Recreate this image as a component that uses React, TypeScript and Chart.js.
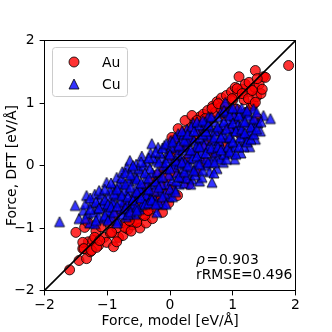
import { useEffect, useRef } from "react";
import { Chart, registerables } from "chart.js";

Chart.register(...registerables);

// ---- data ----
const seriesNames = ["Au", "Cu"];
const axisTicks = [-2, -1, 0, 1, 2];
const diagonal = [-2, 2];
const rhoValue = "0.903";
const rrmseValue = "0.496";
const xTitle = "Force, model [eV/Å]";
const yTitle = "Force, DFT [eV/Å]";

const auPoints: [number, number][] = [
  [-1.60, -1.67], [-1.50, -1.07], [-1.45, -1.52], [-1.39, -1.33], [-1.33, -1.49], [-1.30, -1.22], [-1.27, -1.38], [-1.23, -1.20],
  [-1.18, -1.05], [-1.14, -1.28], [-1.10, -0.98], [-1.05, -1.15], [-1.01, -1.23], [-0.97, -0.92], [-0.95, -1.08], [-0.90, -1.30],
  [-0.88, -0.80], [-0.85, -1.00], [-0.82, -1.15], [-0.78, -0.70], [-0.75, -1.12], [-0.72, -0.92], [-0.70, -0.60], [-0.67, -1.02],
  [-0.64, -0.80], [-0.60, -0.95], [-0.58, -0.55], [-0.55, -0.70], [-0.53, -0.90], [-0.50, -0.45], [-0.48, -1.00], [-0.45, -0.62],
  [-0.42, -0.80], [-0.40, -0.35], [-0.38, -0.92], [-0.35, -0.55], [-0.32, -0.72], [-0.30, -0.25], [-0.28, -0.85], [-0.25, -0.45],
  [-0.24, -0.67], [-0.20, -0.15], [-0.18, -0.58], [-0.15, -0.32], [-0.12, -0.75], [-0.10, -0.05], [-0.08, -0.45], [-0.05, -0.20],
  [-0.02, -0.60], [0.00, 0.15], [0.02, -0.35], [0.05, 0.40], [0.07, -0.10], [0.10, 0.25], [0.12, -0.48], [0.15, 0.05],
  [0.18, 0.48], [0.20, -0.20], [0.22, 0.30], [0.25, 0.55], [0.28, 0.10], [0.30, -0.30], [0.33, 0.42], [0.35, 0.62],
  [0.38, 0.20], [0.40, 0.70], [0.42, -0.10], [0.45, 0.50], [0.48, 0.78], [0.50, 0.30], [0.53, 0.82], [0.55, 0.05],
  [0.57, 0.60], [0.60, 0.88], [0.62, 0.40], [0.65, 0.75], [0.68, 0.95], [0.70, 0.20], [0.72, 0.85], [0.75, 1.02],
  [0.78, 0.55], [0.80, 0.92], [0.82, 1.08], [0.85, 0.35], [0.87, 0.80], [0.90, 1.12], [0.92, 0.98], [0.95, 0.60],
  [0.98, 1.18], [1.00, 1.05], [1.02, 0.75], [1.04, 1.25], [1.06, 0.90], [1.08, 1.15], [1.10, 1.42], [1.12, 0.50],
  [1.15, 1.22], [1.18, 1.05], [1.20, 1.30], [1.22, 0.85], [1.26, 1.33], [1.28, 1.18], [1.30, 0.95], [1.33, 0.98],
  [1.35, 1.25], [1.36, 1.52], [1.38, 1.10], [1.40, 0.75], [1.42, 1.30], [1.45, 1.15], [1.49, 1.42], [1.52, 1.41],
  [1.47, 1.22], [1.89, 1.60],
  [0.03, 0.45], [0.13, 0.59], [0.24, 0.72], [0.35, 0.80], [0.43, 0.72], [0.56, 0.75], [0.67, 0.91], [0.77, 0.99],
  [0.88, 0.93], [0.99, 1.07], [1.07, 1.23], [1.15, 1.15], [1.25, 1.07], [1.31, 1.20], [1.36, 1.01], [1.39, 1.39],
  [-1.39, -1.23], [-1.37, -1.33], [-1.25, -1.36], [-1.17, -1.31], [-1.20, -1.15], [-1.12, -1.20], [-0.93, -1.07], [-0.72, -0.99],
  [-0.53, -0.91], [-0.40, -0.80], [-0.35, -0.72], [-1.36, -0.99], [-1.31, -0.91], [-0.62, -1.05], [-0.85, -1.22], [-0.65, -0.88],
  [-0.15, -0.55],
];

const cuPoints: [number, number][] = [
  [-1.76, -0.90], [-1.51, -0.64], [-1.45, -0.85], [-1.38, -0.72], [-1.33, -0.48], [-1.31, -0.77], [-1.28, -0.92], [-1.25, -0.60],
  [-1.20, -0.46], [-1.20, -0.93], [-1.16, -0.70], [-1.12, -0.55], [-1.09, -0.45], [-1.06, -0.85], [-1.03, -0.65], [-1.01, -0.27],
  [-0.98, -0.50], [-0.95, -0.75], [-0.93, -0.83], [-0.90, -0.35], [-0.88, -0.60], [-0.85, -0.19], [-0.83, -0.88], [-0.80, -0.45],
  [-0.78, -0.70], [-0.75, -0.28], [-0.72, -0.55], [-0.70, -0.82], [-0.69, -0.03], [-0.66, -0.40], [-0.64, 0.08], [-0.62, -0.65],
  [-0.60, -0.20], [-0.58, -0.48], [-0.56, -0.78], [-0.54, 0.02], [-0.52, -0.32], [-0.51, -0.51], [-0.49, -0.70], [-0.47, -0.10],
  [-0.45, 0.15], [-0.43, -0.40], [-0.41, -0.58], [-0.39, -0.22], [-0.37, 0.05], [-0.35, -0.58], [-0.33, -0.45], [-0.31, 0.20],
  [-0.29, 0.35], [-0.28, -0.12], [-0.26, -0.30], [-0.24, -0.55], [-0.22, 0.08], [-0.21, -0.75], [-0.19, 0.29], [-0.17, -0.20],
  [-0.15, -0.42], [-0.13, 0.12], [-0.11, -0.62], [-0.09, 0.32], [-0.07, -0.05], [-0.05, -0.30], [-0.03, 0.22], [-0.01, -0.50],
  [0.01, 0.40], [0.03, -0.24], [0.05, 0.05], [0.07, -0.38], [0.09, 0.28], [0.11, -0.12], [0.13, 0.51], [0.15, -0.30],
  [0.17, 0.15], [0.19, 0.42], [0.21, -0.05], [0.23, -0.28], [0.25, 0.30], [0.27, 0.58], [0.29, -0.13], [0.31, 0.10],
  [0.33, 0.45], [0.35, -0.22], [0.37, 0.68], [0.39, 0.22], [0.41, -0.05], [0.43, 0.55], [0.45, 0.35], [0.47, -0.25],
  [0.49, 0.12], [0.51, -0.19], [0.53, 0.62], [0.55, 0.42], [0.57, 0.00], [0.59, 0.25], [0.61, 0.78], [0.63, -0.10],
  [0.65, 0.50], [0.67, -0.27], [0.69, 0.15], [0.71, 0.70], [0.73, 0.35], [0.75, -0.05], [0.77, 0.13], [0.79, 0.58],
  [0.81, 0.85], [0.83, 0.28], [0.85, 0.05], [0.88, 1.01], [0.89, 0.45], [0.91, 0.19], [0.93, 0.72], [0.95, 0.35],
  [0.97, 0.90], [0.99, 0.24], [1.01, 0.55], [1.03, 0.10], [1.05, 0.75], [1.07, 0.91], [1.09, 0.38], [1.11, 0.62],
  [1.13, 0.20], [1.15, 0.82], [1.17, 0.50], [1.20, 0.85], [1.20, 0.40], [1.22, 0.65], [1.25, 0.48], [1.27, 0.30],
  [1.30, 0.72], [1.33, 0.91], [1.33, 0.61], [1.36, 0.42], [1.40, 0.68], [1.44, 0.55], [1.49, 0.80], [1.60, 0.75],
  [-1.22, -0.75], [-1.14, -0.82], [-1.08, -0.62], [-1.00, -0.72], [-0.96, -0.40], [-0.92, -0.58], [-0.86, -0.48], [-0.82, -0.30],
  [-0.79, -0.58], [-0.76, -0.10], [-0.73, -0.40], [-0.68, -0.62], [-0.65, -0.25], [-0.61, -0.05], [-0.57, -0.62], [-0.55, -0.18],
  [-0.50, -0.05], [-0.48, -0.38], [-0.44, -0.62], [-0.42, 0.00], [-0.38, -0.48], [-0.36, -0.30], [-0.32, -0.05], [-0.30, -0.52],
  [-0.27, 0.12], [-0.25, -0.40], [-0.20, -0.10], [-0.18, -0.60], [-0.16, 0.20], [-0.14, -0.30], [-0.10, 0.00], [-0.08, -0.45],
  [-0.04, 0.12], [-0.02, -0.15], [0.00, -0.38], [0.02, 0.30], [0.06, -0.02], [0.08, 0.45], [0.10, -0.25], [0.12, 0.18],
  [0.14, 0.02], [0.18, -0.18], [0.20, 0.25], [0.22, 0.50], [0.24, 0.05], [0.26, -0.20], [0.28, 0.38], [0.30, 0.20],
  [0.32, -0.02], [0.34, 0.62], [0.36, 0.12], [0.38, 0.40], [0.40, -0.15], [0.42, 0.30], [0.44, 0.05], [0.46, 0.65],
  [0.48, 0.45], [0.50, 0.20], [0.52, -0.08], [0.54, 0.32], [0.56, 0.70], [0.58, 0.10], [0.60, 0.48], [0.62, 0.30],
  [0.64, 0.62], [0.66, 0.05], [0.68, 0.40], [0.70, -0.12], [0.72, 0.55], [0.74, 0.22], [0.76, 0.78], [0.78, 0.40],
  [0.80, 0.10], [0.82, 0.65], [0.84, 0.50], [0.86, 0.18], [0.90, 0.85], [0.92, 0.30], [0.96, 0.60], [0.98, 0.45],
  [1.02, 0.80], [1.04, 0.30], [1.08, 0.65], [1.12, 0.45], [1.16, 0.70], [1.18, 0.30], [1.24, 0.80], [1.28, 0.55],
  [-1.35, -0.62], [-1.35, -0.85], [-1.27, -0.52], [-1.27, -0.70], [-1.18, -0.58], [-1.18, -0.88], [-1.13, -0.40], [-1.13, -0.68],
  [-1.04, -0.38], [-1.04, -0.55], [-1.04, -0.80], [-0.99, -0.62], [-0.99, -0.88], [-0.94, -0.28], [-0.94, -0.66], [-0.89, -0.45],
  [-0.89, -0.75], [-0.84, -0.38], [-0.84, -0.65], [-0.84, -0.92], [-0.77, -0.20], [-0.77, -0.48], [-0.77, -0.78], [-0.71, -0.12],
  [-0.71, -0.30], [-0.71, -0.68], [-0.67, -0.50], [-0.67, -0.78], [-0.63, -0.15], [-0.63, -0.35], [-0.63, -0.74], [-0.59, 0.00],
  [-0.59, -0.55], [-0.53, -0.22], [-0.53, -0.42], [-0.53, -0.66], [-0.53, -0.72], [-0.46, -0.28], [-0.46, -0.52], [-0.46, 0.06],
  [-0.40, -0.12], [-0.40, -0.62], [-0.34, 0.12], [-0.34, -0.20], [-0.34, -0.38], [-0.34, -0.60], [-0.29, -0.55], [-0.23, -0.25],
  [-0.23, 0.22], [-0.23, -0.62], [-0.18, 0.05], [-0.18, -0.35], [-0.12, -0.18], [-0.12, -0.50], [-0.12, 0.28], [-0.06, 0.05],
  [-0.06, -0.62], [-0.06, 0.35], [0.00, -0.05], [0.00, 0.18], [0.04, -0.50], [0.04, 0.38], [0.09, 0.08], [0.09, -0.42],
  [0.14, 0.32], [0.14, -0.18], [0.19, 0.05], [0.19, 0.55], [0.23, 0.40], [0.23, -0.10], [0.28, 0.50], [0.28, 0.00],
  [0.33, 0.25], [0.33, -0.30], [0.38, 0.55], [0.38, -0.08], [0.43, 0.15], [0.43, 0.70], [0.47, 0.30], [0.47, 0.02],
  [0.52, 0.50], [0.52, 0.72], [0.57, 0.20], [0.57, 0.55], [0.61, 0.05], [0.61, 0.65], [0.66, 0.28], [0.66, 0.78],
  [0.71, 0.45], [0.71, 0.05], [0.76, 0.30], [0.76, 0.62], [0.81, 0.45], [0.81, 0.25], [0.86, 0.70], [0.86, 0.88],
  [0.90, 0.10], [0.90, 0.58], [0.95, 0.80], [0.95, 0.45], [0.95, 0.22], [1.00, 0.38], [1.00, 0.68], [1.00, 0.92],
  [1.05, 0.55], [1.05, 0.18], [1.10, 0.80], [1.10, 0.30], [1.14, 0.58], [1.14, 0.92], [1.19, 0.70], [1.19, 0.52],
  [1.23, 0.38], [1.23, 0.88], [1.29, 0.62], [1.29, 0.42], [1.34, 0.75], [1.34, 0.50], [1.38, 0.85], [1.38, 0.58],
  [1.45, 0.70],
];

// ---- styles ----
const FONT = "DejaVu Sans";
const FS = 13.9;
const AU_FILL = "rgba(255,0,0,0.8)";
const CU_FILL = "rgba(0,0,255,0.8)";
const EDGE = "rgba(0,0,0,0.8)";

function makeTriangle(): HTMLCanvasElement {
  const c = document.createElement("canvas");
  c.width = 14;
  c.height = 14;
  const g = c.getContext("2d")!;
  g.beginPath();
  g.moveTo(7, 2);
  g.lineTo(2, 12);
  g.lineTo(12, 12);
  g.closePath();
  g.fillStyle = CU_FILL;
  g.fill();
  g.lineWidth = 1;
  g.strokeStyle = EDGE;
  g.stroke();
  return c;
}

const fmt = (v: number) => (v < 0 ? "\u2212" + Math.abs(v) : String(v));

export default function App() {
  const ref = useRef<HTMLCanvasElement>(null);

  useEffect(() => {
    document.body.style.margin = "0";
    const tri = makeTriangle();

    const overlay = {
      id: "overlay",
      afterDatasetsDraw(chart: any) {
        const { ctx, chartArea: a } = chart;
        ctx.save();
        // spines
        ctx.strokeStyle = "#000";
        ctx.lineWidth = 1;
        ctx.strokeRect(a.left, a.top, a.right - a.left, a.bottom - a.top);

        // legend
        ctx.beginPath();
        ctx.roundRect(52.5, 47.5, 75, 49, 3);
        ctx.fillStyle = "rgba(255,255,255,0.8)";
        ctx.fill();
        ctx.strokeStyle = "#cccccc";
        ctx.lineWidth = 1;
        ctx.stroke();

        ctx.beginPath();
        ctx.arc(74, 62, 5, 0, Math.PI * 2);
        ctx.fillStyle = AU_FILL;
        ctx.fill();
        ctx.strokeStyle = EDGE;
        ctx.stroke();
        ctx.drawImage(tri, 74 - 7, 84 - 7);

        ctx.fillStyle = "#000";
        ctx.font = `${FS}px "${FONT}"`;
        ctx.textAlign = "left";
        ctx.textBaseline = "alphabetic";
        ctx.fillText(seriesNames[0], 102, 66.5);
        ctx.fillText(seriesNames[1], 102, 88.5);

        // annotation
        ctx.font = `italic ${FS}px "${FONT}"`;
        ctx.fillText("\u03c1", 196, 263.5);
        ctx.font = `${FS}px "${FONT}"`;
        ctx.fillText("=", 206.5, 263.5);
        ctx.fillText(rhoValue, 219, 263.5);
        ctx.fillText("rRMSE=" + rrmseValue, 196, 279);

        // axis titles
        ctx.textAlign = "center";
        ctx.fillText(xTitle, (a.left + a.right) / 2, 325);
        ctx.translate(16, (a.top + a.bottom) / 2);
        ctx.rotate(-Math.PI / 2);
        ctx.fillText(yTitle, 0, 0);
        ctx.restore();
      },
    };

    const tickFont = { family: FONT, size: FS };
    const chart = new Chart(ref.current!, {
      type: "scatter",
      data: {
        datasets: [
          {
            type: "line",
            label: "y=x",
            data: diagonal.map((v) => ({ x: v, y: v })),
            borderColor: "#000",
            borderWidth: 1.6,
            pointRadius: 0,
            showLine: true,
            fill: false,
            order: 0,
          } as any,
          {
            label: seriesNames[1],
            data: cuPoints.map(([x, y]) => ({ x, y })),
            pointStyle: tri,
            pointRadius: 5,
            backgroundColor: CU_FILL,
            borderColor: EDGE,
            order: 1,
          },
          {
            label: seriesNames[0],
            data: auPoints.map(([x, y]) => ({ x, y })),
            pointStyle: "circle",
            pointRadius: 5,
            borderWidth: 1,
            backgroundColor: AU_FILL,
            borderColor: EDGE,
            order: 2,
          },
        ],
      },
      options: {
        responsive: false,
        devicePixelRatio: 1,
        animation: false,
        events: [],
        layout: { padding: { top: 40.5, right: 36.5, bottom: 0, left: 0 } },
        plugins: { legend: { display: false }, tooltip: { enabled: false } },
        scales: {
          x: {
            type: "linear",
            position: "bottom",
            min: -2,
            max: 2,
            afterBuildTicks: (s: any) => {
              s.ticks = axisTicks.map((v) => ({ value: v }));
            },
            afterFit: (s: any) => {
              s.height = 41.5;
            },
            ticks: { color: "#000", font: tickFont, padding: 2, maxRotation: 0, callback: (v: any) => fmt(Number(v)) },
            grid: { display: true, drawOnChartArea: false, drawTicks: true, tickLength: 4.9, tickWidth: 1, tickColor: "#000" },
            border: { display: false },
          },
          y: {
            type: "linear",
            position: "left",
            min: -2,
            max: 2,
            afterBuildTicks: (s: any) => {
              s.ticks = axisTicks.map((v) => ({ value: v }));
            },
            afterFit: (s: any) => {
              s.width = 44.5;
            },
            ticks: { color: "#000", font: tickFont, padding: 4.9, callback: (v: any) => fmt(Number(v)) },
            grid: { display: true, drawOnChartArea: false, drawTicks: true, tickLength: 4.9, tickWidth: 1, tickColor: "#000" },
            border: { display: false },
          },
        },
      },
      plugins: [overlay],
    });
    return () => chart.destroy();
  }, []);

  return <canvas ref={ref} width={332} height={332} style={{ display: "block", width: 332, height: 332 }} />;
}
